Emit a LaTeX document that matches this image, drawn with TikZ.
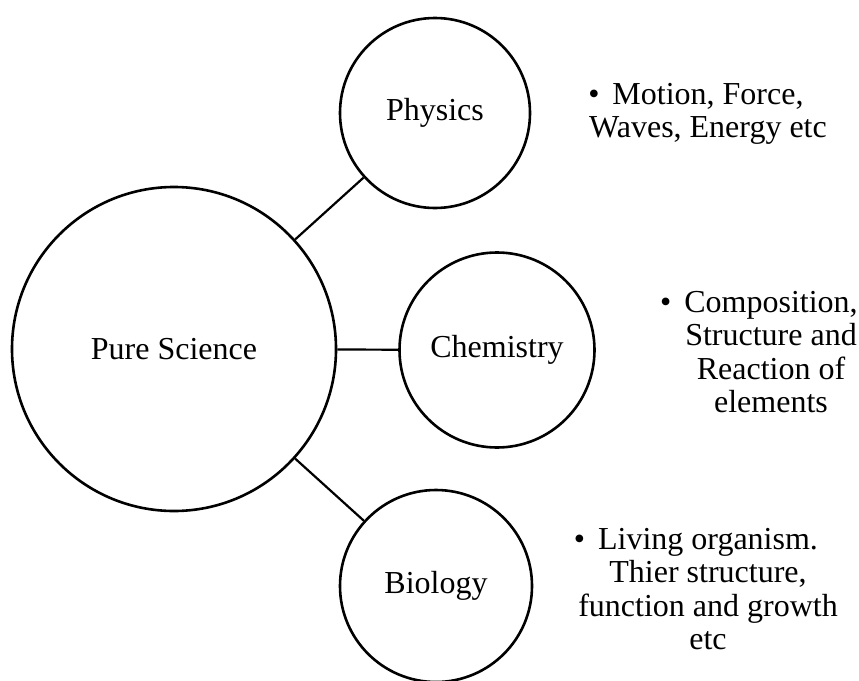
\documentclass[tikz,border=0pt]{standalone}
\usepackage{fontspec}
\setmainfont{Liberation Serif}
\usepackage{tikz}
\usetikzlibrary{
    calc,
    shapes.geometric
}
\tikzset{
    bubble/.style={draw, circle, line width=2.6pt, inner sep=0pt,
        font=\fontsize{32}{34}\selectfont},
    link/.style={line width=2.2pt},
    note/.style={align=center, inner sep=0pt,
        font=\fontsize{32}{33.5}\selectfont}
}
\newcommand{\bul}{\llap{\textbullet\hspace{13pt}}}

\begin{document}
\begin{tikzpicture}[x=1pt,y=-1pt]
    \clip (0,0) rectangle (859,680);
    % circles
    \node[bubble, minimum size=324pt] (pure) at (174,349) {Pure Science};
    \node[bubble, minimum size=190pt] (phys) at (435,113) {Physics};
    \node[bubble, minimum size=195pt] (chem) at (497,350) {Chemistry};
    \node[bubble, minimum size=192pt] (bio)  at (436,586) {Biology};
    % links
    \draw[link] (pure) -- (phys);
    \draw[link] (pure) -- (chem);
    \draw[link] (pure) -- (bio);
    % notes
    \node[note] (physnote) at (708,114) {\bul Motion, Force,\\ Waves, Energy etc};
    \node[note] (chemnote) at (771,352) {\bul Composition,\\ Structure and\\ Reaction of\\ elements};
    \node[note] (bionote)  at (708,589) {\bul Living organism.\\ Thier structure,\\ function and growth\\ etc};
\end{tikzpicture}
\end{document}
